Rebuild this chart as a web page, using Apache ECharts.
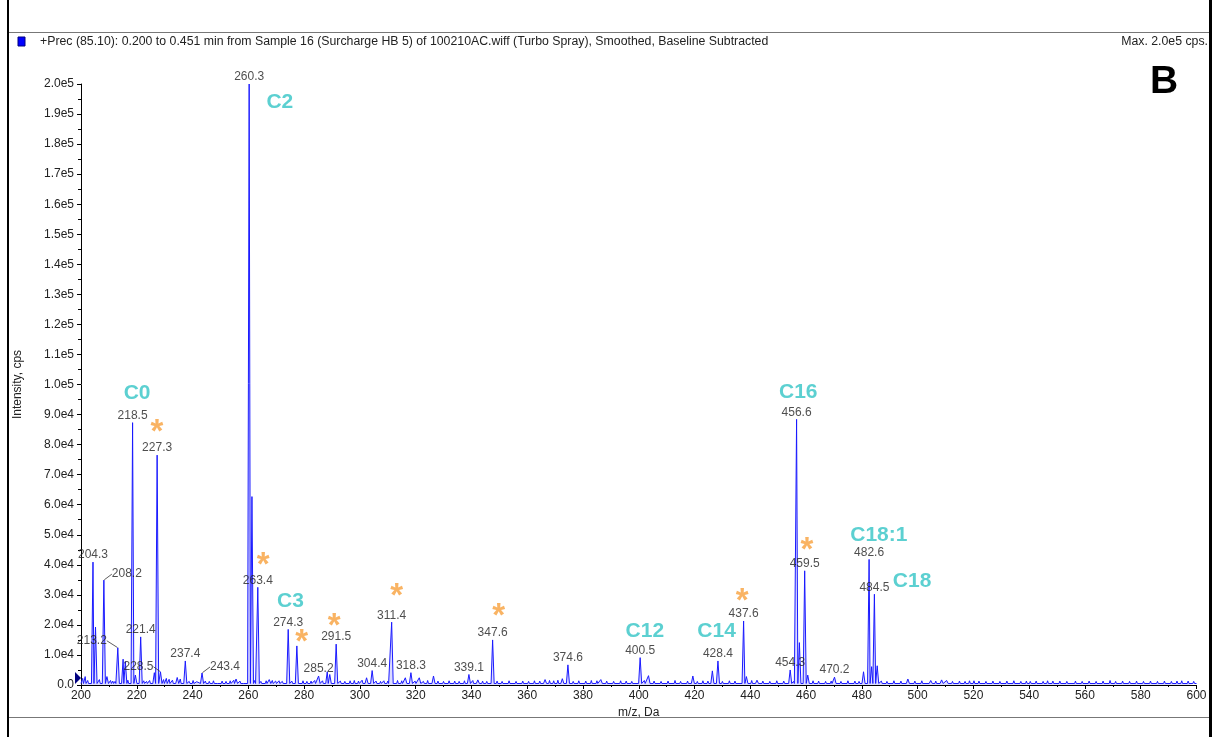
<!DOCTYPE html>
<html><head><meta charset="utf-8">
<script src="https://cdn.jsdelivr.net/npm/echarts@6/dist/echarts.min.js"></script>
<style>html,body{margin:0;padding:0;background:#fff}#c{width:1215px;height:737px}</style>
</head><body><div id="c"></div>
<script>
// ---- data ----
const peakMz  = [204.3, 205.2, 208.2, 209.3, 213.2, 215.1, 215.9, 218.5, 219.5, 221.4, 226.3, 227.3, 228.5, 234.5, 237.4, 243.4, 255.6,
                 260.3, 261.3, 263.4, 267.5, 274.3, 277.4, 285.2, 288.3, 289.2, 291.5, 302.4, 304.4, 311.4, 316.3, 318.3, 321.3, 326.4,
                 339.1, 342.3, 347.6, 366.4, 372.6, 374.6, 386.4, 400.5, 403.5, 419.4, 426.4, 428.4, 437.6, 438.6, 442.4,
                 454.3, 456.6, 457.6, 459.5, 460.6, 470.2, 480.6, 482.6, 483.5, 484.5, 485.5, 496.5, 504.7, 508.6, 510.4];
const peakInt = [40900, 19300, 34900, 2800, 12400, 8600, 7800, 87300, 3300, 16000, 4100, 76500, 4400, 2500, 8000, 4000, 2000,
                 200000, 62700, 32500, 1800, 18500, 13000, 3000, 4400, 3500, 13600, 2400, 4800, 20900, 2400, 4100, 2400, 3000,
                 3500, 1700, 15000, 1800, 2100, 6700, 1800, 9100, 3100, 3000, 4700, 8000, 21300, 2800, 1600,
                 5000, 88400, 14100, 38000, 3300, 2600, 4400, 41800, 6100, 30200, 6400, 2000, 1500, 1700, 1500];
const minorMz  = [200.6, 201.5, 202.4, 206.6, 210.6, 211.4, 212.2, 216.8, 222.5, 223.5, 224.6, 229.6, 230.6, 231.6, 232.8, 235.6, 238.8,
                  240.2, 241.5, 244.6, 246.0, 247.5, 249.2, 250.6, 252.0, 253.5, 254.8, 257.0, 258.5, 262.3, 264.5, 266.4, 268.6,
                  269.8, 271.0, 272.2, 275.6, 279.6, 281.0, 282.5, 283.8, 286.6, 293.0, 294.6, 296.5, 298.0, 299.5, 300.8, 305.8,
                  307.4, 308.6, 310.0, 313.5, 315.0, 319.8, 322.8, 324.3, 328.0, 330.0, 332.0, 334.0, 335.6, 337.5, 340.5, 344.0,
                  345.5, 349.2, 351.0, 353.5, 356.0, 358.4, 360.5, 362.6, 364.5, 368.0, 369.5, 371.0, 376.5, 378.5, 381.0, 383.0,
                  385.0, 388.5, 391.0, 393.5, 395.5, 397.5, 402.0, 405.5, 408.0, 410.5, 413.0, 415.0, 417.5, 421.0, 423.0, 424.8,
                  430.0, 432.5, 434.5, 440.5, 444.5, 447.0, 449.5, 452.0, 455.5, 462.5, 464.5, 467.0, 469.0, 472.5, 475.0, 477.5,
                  479.0, 487.0, 489.0, 491.5, 494.0, 499.0, 501.5, 506.5, 512.5, 515.0, 517.0, 518.6, 520.2, 522.0, 524.5, 527.0,
                  529.5, 532.0, 534.5, 537.0, 539.0, 540.4, 542.5, 545.0, 546.6, 548.5, 551.0, 553.5, 556.6, 559.0, 561.5, 564.0,
                  566.5, 569.0, 571.0, 573.5, 576.0, 578.5, 581.0, 583.5, 586.0, 588.5, 591.0, 593.0, 594.7, 597.0, 599.0];
const minorInt = [2200, 2800, 1500, 1800, 1500, 1300, 1200, 1600, 1400, 1200, 1500, 1800, 2200, 1900, 1600, 2000, 1200,
                  1500, 1100, 1300, 1200, 1400, 1100, 1300, 1200, 1400, 1600, 1300, 1100, 1500, 1200, 1400, 1500,
                  1300, 1400, 1200, 1300, 1400, 1200, 1300, 1500, 1400, 1300, 1200, 1400, 1500, 1300, 1600, 1300,
                  1200, 1400, 1300, 1500, 1400, 1300, 1200, 1500, 1300, 1200, 1400, 1300, 1200, 1400, 1500, 1300,
                  1200, 1300, 1200, 1400, 1200, 1300, 1200, 1400, 1300, 1500, 1400, 1600, 1200, 1400, 1300, 1500,
                  1400, 1300, 1200, 1400, 1300, 1200, 1500, 1300, 1200, 1300, 1500, 1200, 1300, 1200, 1400, 1300,
                  1200, 1400, 1300, 1500, 1300, 1200, 1400, 1300, 1200, 1400, 1300, 1200, 1300, 1200, 1400, 1300,
                  1200, 1300, 1200, 1400, 1300, 1300, 1400, 1300, 1200, 1300, 1200, 1400, 1400, 1300, 1200, 1300,
                  1200, 1300, 1400, 1200, 1300, 1200, 1300, 1200, 1400, 1300, 1300, 1200, 1300, 1200, 1300, 1200,
                  1300, 1500, 1200, 1300, 1200, 1300, 1200, 1300, 1200, 1300, 1200, 1300, 1400, 1300, 1200];
const baselineLevel = 500;

const labeledMz = [204.3, 208.2, 213.2, 218.5, 221.4, 227.3, 228.5, 237.4, 243.4, 260.3, 263.4, 274.3, 285.2, 291.5, 304.4, 311.4,
                   318.3, 339.1, 347.6, 374.6, 400.5, 428.4, 437.6, 454.3, 456.6, 459.5, 470.2, 482.6, 484.5];

const annoText = ['C0', 'C2', 'C3', 'C12', 'C14', 'C16', 'C18:1', 'C18'];
const annoMz   = [220.1, 271.3, 275.1, 402.2, 427.9, 457.2, 486.1, 498.0];
const annoInt  = [97200, 193800, 27800, 17900, 17900, 97400, 49700, 34700];

const starMz  = [227.2, 265.3, 279.1, 290.8, 313.2, 349.8, 437.1, 460.3];
const starInt = [87000, 42600, 17000, 22300, 32400, 25700, 30600, 47700];

const headerText = '+Prec (85.10): 0.200 to 0.451 min from Sample 16 (Surcharge HB 5) of 100210AC.wiff (Turbo Spray), Smoothed, Baseline Subtracted';
const maxText = 'Max. 2.0e5 cps.';
const panelLetter = 'B';

// ---- build spectrum profile ----
const pts = [[200, baselineLevel]];
peakMz.forEach((m, i) => { pts.push([m - 0.55, baselineLevel], [m, peakInt[i]], [m + 0.55, baselineLevel]); });
minorMz.forEach((m, i) => { pts.push([m - 0.3, baselineLevel], [m, minorInt[i]], [m + 0.3, baselineLevel]); });
pts.push([600, baselineLevel]);
pts.sort((a, b) => a[0] - b[0]);

const intensityAt = m => peakInt[peakMz.indexOf(m)];
// label displacement (px) for labels drawn with a leader line
const leader = { '208.2': [23, -6], '213.2': [-26, -7], '228.5': [-22, -5], '243.4': [23, -6] };
const plainLabels = labeledMz.filter(m => !leader[m.toFixed(1)]);
const leaderLabels = labeledMz.filter(m => leader[m.toFixed(1)]);

function fmtY(v) {
  if (v === 0) return '0.0';
  const e = Math.floor(Math.log10(v) + 1e-9);
  return (v / Math.pow(10, e)).toFixed(1) + 'e' + e;
}

const FONT = '"Liberation Sans", Arial, sans-serif';
const chart = echarts.init(document.getElementById('c'), null, { renderer: 'canvas' });
chart.setOption({
  animation: false,
  backgroundColor: '#fff',
  grid: { left: 81, right: 18.5, top: 84, bottom: 52, containLabel: false },
  xAxis: {
    type: 'value', min: 200, max: 600, interval: 20,
    name: 'm/z, Da', nameLocation: 'middle', nameGap: 19,
    nameTextStyle: { fontFamily: FONT, fontSize: 12, color: '#222' },
    axisLine: { lineStyle: { color: '#000', width: 1 } },
    axisTick: { show: true, length: 4, lineStyle: { color: '#000' } },
    minorTick: { show: true, splitNumber: 2, length: 2, lineStyle: { color: '#000' } },
    splitLine: { show: false },
    axisLabel: { fontFamily: FONT, fontSize: 12, color: '#222', margin: 5 }
  },
  yAxis: {
    type: 'value', min: 0, max: 200000, interval: 10000,
    name: 'Intensity, cps', nameLocation: 'middle', nameGap: 57, nameRotate: 90,
    nameTextStyle: { fontFamily: FONT, fontSize: 12, color: '#222' },
    axisLine: { show: true, lineStyle: { color: '#000', width: 1 } },
    axisTick: { show: true, length: 4, lineStyle: { color: '#000' } },
    minorTick: { show: true, splitNumber: 2, length: 3, lineStyle: { color: '#000' } },
    splitLine: { show: false },
    axisLabel: { fontFamily: FONT, fontSize: 12, color: '#222', margin: 7, formatter: fmtY }
  },
  series: [
    {
      type: 'line', data: pts, showSymbol: false, smooth: false, z: 3,
      lineStyle: { color: '#1a1aff', width: 1 },
      areaStyle: { color: 'rgba(110,110,255,0.35)', origin: 'start' }
    },
    {
      type: 'scatter', data: plainLabels.map(m => [m, intensityAt(m)]), symbolSize: 0, z: 5,
      label: { show: true, position: 'top', distance: 1, fontFamily: FONT, fontSize: 12, color: '#222',
               formatter: p => p.value[0].toFixed(1) }
    },
    {
      type: 'scatter', data: leaderLabels.map(m => [m, intensityAt(m)]), symbolSize: 1,
      itemStyle: { color: 'rgba(0,0,0,0)' }, z: 5,
      label: { show: true, position: 'inside', fontFamily: FONT, fontSize: 12, color: '#222',
               formatter: p => p.value[0].toFixed(1) },
      labelLayout: p => { const o = leader[leaderLabels[p.dataIndex].toFixed(1)]; return { dx: o[0], dy: o[1] }; },
      labelLine: { show: true, lineStyle: { color: '#333', width: 0.8 } }
    },
    {
      type: 'scatter', data: annoMz.map((m, i) => [m, annoInt[i]]), symbolSize: 0, z: 6,
      label: { show: true, position: 'inside', fontFamily: FONT, fontSize: 21, fontWeight: 'bold', color: '#33c4c6',
               formatter: p => annoText[p.dataIndex] }
    },
    {
      type: 'scatter', data: starMz.map((m, i) => [m, starInt[i]]), symbolSize: 0, z: 6,
      label: { show: true, position: 'inside', offset: [0, 9], fontFamily: FONT, fontSize: 33, fontWeight: 'bold', color: '#f8a03c',
               formatter: '*' }
    }
  ],
  graphic: [
    { type: 'rect', shape: { x: 7, y: 0, width: 2, height: 737 }, style: { fill: '#000' }, silent: true },
    { type: 'rect', shape: { x: 1209, y: 0, width: 3, height: 737 }, style: { fill: '#000' }, silent: true },
    { type: 'line', shape: { x1: 9, y1: 32.5, x2: 1209, y2: 32.5 }, style: { stroke: '#777', lineWidth: 1 }, silent: true },
    { type: 'line', shape: { x1: 9, y1: 717.5, x2: 1209, y2: 717.5 }, style: { stroke: '#777', lineWidth: 1 }, silent: true },
    { type: 'rect', shape: { x: 18, y: 37, width: 7, height: 9 }, style: { fill: '#0000ff', stroke: '#000080', lineWidth: 1 }, silent: true },
    { type: 'text', x: 40, y: 42, style: { text: headerText, font: '12.3px ' + FONT, fill: '#222', verticalAlign: 'middle' }, silent: true },
    { type: 'text', x: 1208, y: 42, style: { text: maxText, font: '12.3px ' + FONT, fill: '#222', align: 'right', verticalAlign: 'middle' }, silent: true },
    { type: 'text', x: 1164, y: 82, style: { text: panelLetter, font: 'bold 39px ' + FONT, fill: '#000', align: 'center', verticalAlign: 'middle' }, silent: true },
    { type: 'polygon', shape: { points: [[75, 672], [81, 678], [75, 684]] }, style: { fill: '#000080' }, silent: true }
  ]
});
</script></body></html>
